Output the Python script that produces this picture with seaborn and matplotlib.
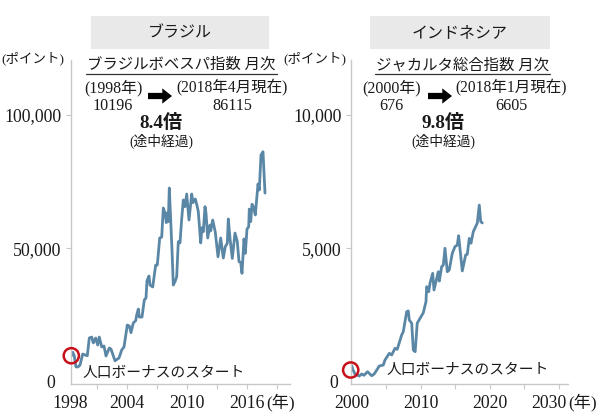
import matplotlib
matplotlib.use("Agg")
import matplotlib.pyplot as plt
from matplotlib.patches import FancyArrowPatch, Rectangle
from matplotlib.transforms import ScaledTranslation
import pandas as pd
import seaborn as sns

# Brazil: Bovespa index
brazil_years = [
    1998.4, 1998.55, 1998.7, 1998.87, 1999.07, 1999.27, 1999.54, 1999.77, 2000.0, 2000.2,
    2000.44, 2000.6, 2000.84, 2001.04, 2001.2, 2001.44, 2001.67, 2001.87, 2002.2, 2002.37,
    2002.77, 2003.17, 2003.44, 2003.67, 2004.0, 2004.2, 2004.37, 2004.6, 2004.84, 2004.94,
    2005.1, 2005.2, 2005.47, 2005.7, 2005.87, 2005.97, 2006.17, 2006.27, 2006.54, 2006.84,
    2007.0, 2007.24, 2007.44, 2007.6, 2007.77, 2007.9, 2008.0, 2008.1, 2008.2, 2008.34,
    2008.47, 2008.6, 2008.77, 2008.94, 2009.1, 2009.27, 2009.44, 2009.6, 2009.77, 2009.94,
    2010.17, 2010.44, 2010.57, 2010.8, 2011.0, 2011.1, 2011.34, 2011.47, 2011.6, 2011.77,
    2011.87, 2012.04, 2012.27, 2012.34, 2012.54, 2012.8, 2013.07, 2013.34, 2013.6, 2013.8,
    2014.0, 2014.1, 2014.27, 2014.5, 2014.77, 2015.0, 2015.17, 2015.34, 2015.47, 2015.67,
    2015.8, 2015.97, 2016.14, 2016.2, 2016.34, 2016.47, 2016.6, 2016.8, 2017.07, 2017.2,
    2017.37, 2017.57, 2017.77,
]
brazil_values = [
    9600, 11000, 9600, 5500, 5500, 6200, 10350, 10000, 9700, 16350,
    16700, 14500, 16350, 13700, 16700, 13000, 13350, 9600, 12600, 12200,
    7800, 8850, 11850, 13000, 21200, 20850, 18350, 22000, 22850, 25000,
    27200, 24200, 24200, 30600, 31350, 37850, 39600, 36200, 35500, 43700,
    43700, 53850, 54200, 65100, 63300, 59600, 63200, 60000, 72600, 60600,
    49350, 36200, 37500, 39300, 52500, 52000, 61000, 68100, 65600, 70350,
    60600, 70350, 67100, 68500, 65600, 63700, 52000, 57700, 56200, 65600,
    63200, 53850, 58700, 56500, 60600, 56000, 46800, 53850, 46350, 50600,
    51900, 61000, 53700, 46200, 55700, 52500, 45000, 44700, 40600, 53500,
    48100, 57200, 58100, 64700, 60000, 66500, 65600, 62500, 74100, 71850,
    85000, 86200, 70700,
]

# Indonesia: Jakarta composite index
indonesia_years = [
    2000.0, 2000.2, 2000.48, 2001.1, 2001.45, 2001.78, 2002.3, 2002.9, 2003.27, 2004.0,
    2004.58, 2004.83, 2005.45, 2005.8, 2006.28, 2006.6, 2007.25, 2007.48, 2007.97, 2008.2,
    2008.35, 2008.7, 2008.93, 2009.2, 2009.5, 2009.9, 2010.38, 2010.77, 2010.87, 2011.16,
    2011.35, 2011.74, 2011.93, 2012.55, 2012.7, 2013.04, 2013.28, 2013.52, 2013.86, 2014.14,
    2014.58, 2014.97, 2015.3, 2015.5, 2016.03, 2016.52, 2016.75, 2017.04, 2017.29, 2017.62,
    2018.2, 2018.49, 2018.7, 2018.93,
]
indonesia_values = [
    600, 435, 285, 210, 285, 235, 370, 220, 285, 585,
    620, 810, 1060, 1000, 1250, 1210, 1750, 1870, 2620, 2650,
    2310, 2190, 1185, 1120, 2190, 2370, 2580, 3000, 3560, 3370,
    3690, 4060, 3435, 4120, 3770, 4310, 4370, 5000, 4120, 4185,
    4810, 5060, 5120, 5470, 4150, 4750, 4770, 5370, 5190, 5620,
    5940, 6620, 6000, 5950,
]

# axis ticks
brazil_xticks = [1998.32, 2001, 2004, 2007, 2010, 2013, 2016, 2019]
brazil_xlabels = ["1998", "", "2004", "", "2010", "", "2016", ""]
brazil_yticks = [0, 50000, 100000]
brazil_ylabels = ["0", "50,000", "100,000"]
indonesia_xticks = [2000, 2005, 2010, 2015, 2020, 2025, 2030]
indonesia_xlabels = ["2000", "", "2010", "", "2020", "", "2030"]
indonesia_yticks = [0, 5000, 10000]
indonesia_ylabels = ["0", "5,000", "10,000"]

LINE_COLOR = "#5B87A6"
AXIS_COLOR = "#C8C8C8"
RING_COLOR = "#C8101A"
BOX_COLOR = "#E9E9E9"
TEXT_COLOR = "#1A1A1A"
FONTS = ["Liberation Serif", "Noto Sans CJK JP"]
W, H = 600, 420

sns.set_theme(style="white")
plt.rcParams["font.family"] = FONTS

fig = plt.figure(figsize=(W / 100, H / 100), dpi=100, facecolor="white")


def put_text(x, y, s, size, **kwargs):
    # x, y are pixels from the top left of the figure
    fig.text(x / W, 1 - y / H, s, fontsize=size, color=TEXT_COLOR,
             ha="center", va="center", **kwargs)


def draw_panel(rect, years, values, xlim, ylim, xticks, xlabels, yticks, ylabels,
               ring_x, ring_y, zero_pad):
    left, top, right, bottom = rect
    ax = fig.add_axes([left / W, 1 - bottom / H, (right - left) / W, (bottom - top) / H])
    ax.patch.set_alpha(0)

    df = pd.DataFrame({"year": years, "value": values})
    sns.lineplot(data=df, x="year", y="value", ax=ax, color=LINE_COLOR, linewidth=2.0,
                 estimator=None, sort=False)
    sns.scatterplot(x=[ring_x], y=[ring_y], ax=ax, s=120, facecolor="none",
                    edgecolor=RING_COLOR, linewidth=1.8, clip_on=False, zorder=5)

    ax.set_xlim(*xlim)
    ax.set_ylim(*ylim)
    ax.set_xlabel("")
    ax.set_ylabel("")
    ax.set_xticks(xticks)
    ax.set_xticklabels(xlabels)
    ax.set_yticks(yticks)
    ax.set_yticklabels(ylabels)
    ax.tick_params(axis="both", length=3.6, width=0.8, color=AXIS_COLOR,
                   labelsize=12.8, labelcolor=TEXT_COLOR, left=True, bottom=True)
    ax.tick_params(axis="x", pad=4.5)
    ax.tick_params(axis="y", pad=3)

    for side in ["top", "right"]:
        ax.spines[side].set_visible(False)
    for side in ["left", "bottom"]:
        ax.spines[side].set_color(AXIS_COLOR)
        ax.spines[side].set_linewidth(1.0)

    # first ticks sit on the axis lines, only their labels show
    ax.xaxis.get_major_ticks()[0].tick1line.set_visible(False)
    zero_tick = ax.yaxis.get_major_ticks()[0]
    zero_tick.tick1line.set_visible(False)
    zero_tick.set_pad(zero_pad)
    return ax


def draw_header(box, name, name_x, index_title, title_x, rule, start_x, start_year, start_value,
                end_x, end_date, end_value, arrow, ratio_x, ratio, unit_x, bonus_x, bonus_y, year_x):
    fig.add_artist(Rectangle((box[0] / W, 1 - 49 / H), (box[1] - box[0]) / W, 33 / H,
                             transform=fig.transFigure, facecolor=BOX_COLOR, edgecolor="none"))
    put_text(name_x, 33, name, 11.5)
    put_text(title_x, 65, index_title, 11.1)
    fig.add_artist(plt.Line2D([rule[0] / W, rule[1] / W], [1 - 74 / H, 1 - 74 / H],
                              transform=fig.transFigure, color="#333333", linewidth=0.9))
    put_text(start_x, 88.3, start_year, 11.4)
    put_text(start_x, 105.7, start_value, 11.6)
    put_text(end_x, 88.3, end_date, 11.2)
    put_text(end_x, 105.7, end_value, 11.6)
    fig.add_artist(FancyArrowPatch((arrow[0] / W, 1 - 96 / H), (arrow[1] / W, 1 - 96 / H),
                                   transform=fig.transFigure, color="black", linewidth=0,
                                   arrowstyle="simple,head_length=7,head_width=11,tail_width=4.5",
                                   shrinkA=0, shrinkB=0, mutation_scale=1))
    put_text(ratio_x, 123.3, ratio, 13.8, fontweight="bold")
    put_text(ratio_x, 141, "(途中経過)", 9.9)
    put_text(unit_x, 58, "(ポイント)", 9.7)
    put_text(bonus_x, bonus_y, "人口ボーナスのスタート", 10.6)
    put_text(year_x, 402, "(年)", 12.3)


draw_panel((70.5, 60, 290, 384), brazil_years, brazil_values, (1998.32, 2020.27), (-900, 120600),
           brazil_xticks, brazil_xlabels, brazil_yticks, brazil_ylabels, 1998.4, 9700, 7.5)
indo_ax = draw_panel((350.7, 60, 568.3, 384), indonesia_years, indonesia_values,
                     (1999.86, 2031.39), (-90, 12060),
                     indonesia_xticks, indonesia_xlabels, indonesia_yticks, indonesia_ylabels,
                     1999.86, 435, 5.5)

# the 2030 label moves left to leave room for the year unit
shift = ScaledTranslation(-10 / 100, 0, fig.dpi_scale_trans)
last_label = indo_ax.xaxis.get_major_ticks()[-1].label1
last_label.set_transform(last_label.get_transform() + shift)

draw_header((91, 269), "ブラジル", 180, "ブラジルボベスパ指数 月次", 181, (86, 277),
            113, "(1998年)", "10196", 232, "(2018年4月現在)", "86115", (148, 172),
            161.3, "8.4倍", 33, 164, 373, 281)
draw_header((370, 550), "インドネシア", 460, "ジャカルタ総合指数 月次", 463, (375, 550),
            391.7, "(2000年)", "676", 511.5, "(2018年1月現在)", "6605", (428, 452),
            443, "9.8倍", 315, 468, 370, 583)

fig.savefig("out.png", dpi=100)
plt.close(fig)
